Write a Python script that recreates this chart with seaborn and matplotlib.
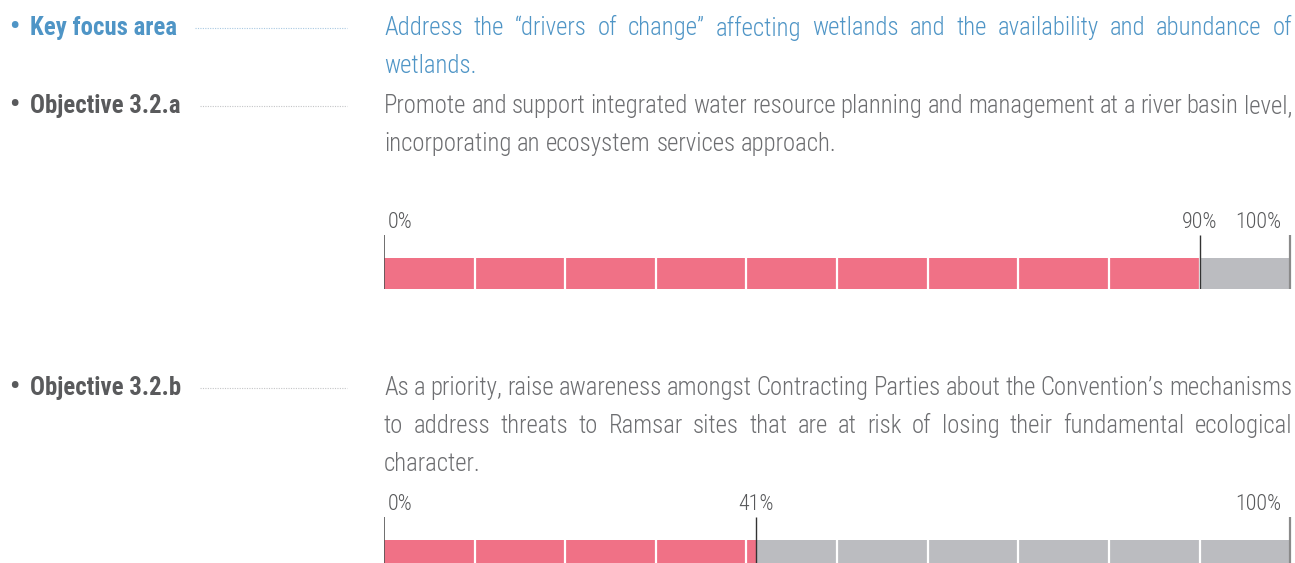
import os
import numpy as np
import pandas as pd
import matplotlib
matplotlib.use("Agg")
import matplotlib.pyplot as plt
import matplotlib.font_manager as fm
import seaborn as sns

# data
focus_label = "Key focus area"
focus_lines = [
    "Address the \u201cdrivers of change\u201d affecting wetlands and the availability and abundance of",
    "wetlands.",
]
objectives = ["Objective 3.2.a", "Objective 3.2.b"]
objective_lines = [
    [
        "Promote and support integrated water resource planning and management at a river basin level,",
        "incorporating an ecosystem services approach.",
    ],
    [
        "As a priority, raise awareness amongst Contracting Parties about the Convention\u2019s mechanisms",
        "to address threats to Ramsar sites that are at risk of losing their fundamental ecological",
        "character.",
    ],
]
progress = [90, 41]

sns.set_theme(style="white")
plt.rcParams["font.family"] = ["DejaVu Sans"]

BLUE = "#4f95c6"
GREY_TXT = "#6d6e71"
LABEL = "#595a5c"
PINK = "#f07186"
BAR_GREY = "#bbbcc0"
FS = 17.8


# look for a condensed / narrow face, the reference uses one
def find_condensed(target):
    prefs = ["Roboto Condensed", "Liberation Sans Narrow", "Open Sans Condensed",
             "Noto Sans Condensed", "DejaVu Sans"]
    best = None
    for f in fm.fontManager.ttflist:
        base = os.path.basename(f.fname).lower()
        narrow = ("condensed" in base or "narrow" in base or "condensed" in f.name.lower()
                  or "narrow" in f.name.lower())
        if not narrow or f.style != "normal" or "italic" in base:
            continue
        w = f.weight if isinstance(f.weight, int) else (700 if "bold" in str(f.weight) else 400)
        if "semi" in base or "extra" in base or "medium" in base or "thin" in base:
            continue
        rank = len(prefs)
        for i, p in enumerate(prefs):
            if f.name.lower().startswith(p.lower()):
                rank = i
                break
        key = (rank, abs(w - target))
        if best is None or key < best[0]:
            best = (key, f.fname)
    return best[1] if best else None

light_path = find_condensed(300)
bold_path = find_condensed(700)

def fprop(bold=False, size=FS):
    path = bold_path if bold else light_path
    if path:
        return fm.FontProperties(fname=path, size=size)
    return fm.FontProperties(family="DejaVu Sans", size=size * 0.8,
                             weight="bold" if bold else "light")

W, H = 1295, 563
fig = plt.figure(figsize=(W / 100, H / 100), dpi=100)
renderer = fig.canvas.get_renderer()

def fx(px):
    return px / W

def fy(py):
    return 1 - py / H

def text_width(s, prop):
    t = fig.text(0, 0, s, fontproperties=prop)
    w = t.get_window_extent(renderer).width
    t.remove()
    return w

def justify(line, x0, x1, y, color, last=False):
    prop = fprop()
    words = line.split(" ")
    texts = [fig.text(fx(x0), fy(y), w, color=color, fontproperties=prop, va="center", ha="left")
             for w in words]
    widths = [t.get_window_extent(renderer).width for t in texts]
    sp = text_width("a a", prop) - text_width("aa", prop)
    if last or len(words) == 1:
        gap = sp
    else:
        gap = (x1 - x0 - sum(widths)) / (len(words) - 1)
    x = x0
    for t, w in zip(texts, widths):
        t.set_x(fx(x))
        x += w + gap

def label(text, y, color, dot_color, dot_start):
    fig.text(fx(9), fy(y), "\u2022", color=color, fontproperties=fprop(True, FS * 1.15),
             va="center", ha="left")
    fig.text(fx(30), fy(y), text, color=color, fontproperties=fprop(True), va="center", ha="left")
    fig.add_artist(plt.Line2D([fx(dot_start), fx(347)], [fy(y), fy(y)],
                              color=dot_color, lw=0.8, ls=(0, (1, 1.2)), transform=fig.transFigure))

X0, X1 = 384, 1292
LINE_H = 38

label(focus_label, 28, BLUE, "#a9c9e2", 195)
for i, ln in enumerate(focus_lines):
    justify(ln, X0, X1, 28 + i * LINE_H, BLUE, last=(i == len(focus_lines) - 1))

text_tops = [106, 388]
bar_tops = [235, 517]
for k, (name, lines, p) in enumerate(zip(objectives, objective_lines, progress)):
    label(name, text_tops[k], LABEL, "#c4c5c7", 200)
    for i, ln in enumerate(lines):
        justify(ln, X0, X1, text_tops[k] + i * LINE_H, GREY_TXT, last=(i == len(lines) - 1))

    top = bar_tops[k]
    ax = fig.add_axes([fx(X0), fy(top + 54), fx(X1) - fx(X0), 54 / H])
    df = pd.DataFrame({"row": ["a"], "total": [100], "done": [p]})
    sns.barplot(data=df, x="total", y="row", color=BAR_GREY, width=1, ax=ax,
                linewidth=0, saturation=1)
    sns.barplot(data=df, x="done", y="row", color=PINK, width=1, ax=ax,
                linewidth=0, saturation=1)
    ytop = -0.5 - 23 / 31
    ax.set_xlim(0, 100.2)
    ax.set_ylim(0.5, ytop)
    for t in range(10, 100, 10):
        ax.plot([t, t], [0.5, -0.5], color="white", lw=1.6)
    ax.plot([0, 0], [0.5, ytop], color="#555555", lw=1.2, solid_capstyle="butt")
    ax.plot([p, p], [0.5, ytop], color="#333333", lw=1.0, solid_capstyle="butt")
    ax.plot([100, 100], [0.5, ytop], color="#8a8a8a", lw=1.6, solid_capstyle="butt")
    lp = fprop(size=FS - 2.0)
    ax.text(0.4, ytop - 0.05, "0%", color="#58595b", fontproperties=lp, ha="left", va="bottom")
    ax.text(p, ytop - 0.05, f"{p}%", color="#58595b", fontproperties=lp, ha="center", va="bottom")
    ax.text(99.0, ytop - 0.05, "100%", color="#58595b", fontproperties=lp, ha="right", va="bottom")
    ax.set_axis_off()

fig.savefig("out.png", dpi=100)
